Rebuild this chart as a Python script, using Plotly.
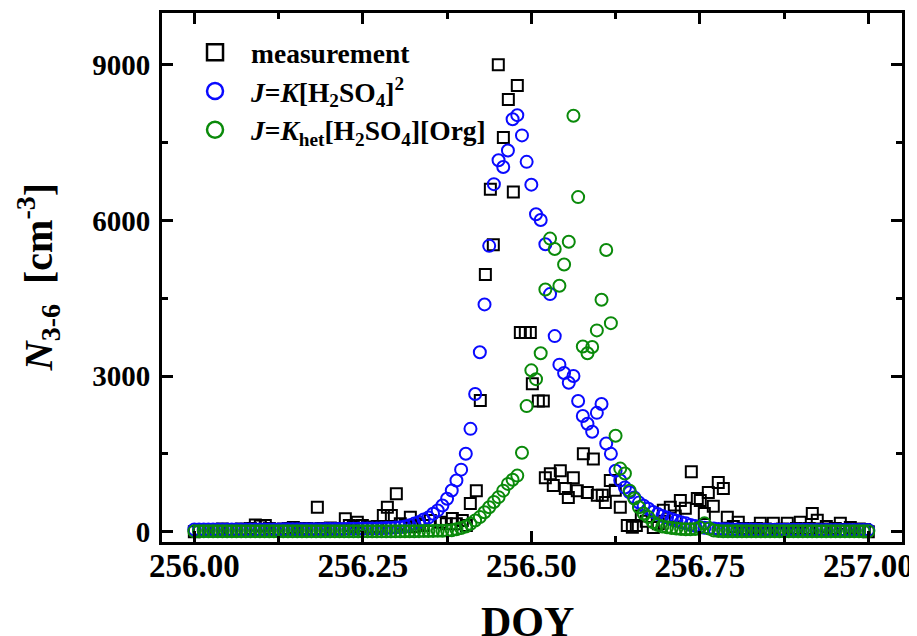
import plotly.graph_objects as go

# ---------------- data ----------------
# model time axis: 10-min resolution over DOY 256-257
model_doy = [256 + i / 144 for i in range(145)]

model_sq = [
    40, 40, 40, 40, 40, 40, 40, 40, 40, 40,
    40, 40, 40, 40, 40, 42, 42, 42, 42, 44,
    44, 44, 45, 45, 46, 46, 47, 48, 49, 50,
    51, 52, 53, 54, 55, 56, 58, 59, 60, 62,
    65, 68, 72, 78, 85, 100, 125, 155, 185, 235,
    270, 345, 409, 505, 633, 792, 985, 1195, 1502, 1982,
    2654, 3460, 4381, 5510, 6700, 7160, 7030, 7350, 7950, 8030,
    7640, 7130, 6690, 6120, 6010, 5540, 4580, 3770, 3220, 3060,
    2870, 3000, 2520, 2230, 2080, 1925, 2290, 2460, 1700, 1500,
    1175, 985, 850, 760, 660, 560, 500, 440, 380, 340,
    300, 270, 240, 210, 180, 160, 130, 110, 90, 75,
    65, 58, 52, 48, 45, 43, 42, 40, 40, 39,
    38, 38, 37, 37, 36, 36, 35, 35, 35, 34,
    34, 34, 33, 33, 33, 32, 32, 32, 31, 31,
    31, 30, 30, 30, 30,
]

model_het = [
    5, 5, 5, 5, 5, 5, 5, 5, 5, 5,
    5, 5, 5, 5, 5, 5, 5, 5, 5, 5,
    5, 5, 5, 5, 5, 5, 5, 5, 5, 5,
    5, 5, 5, 5, 5, 5, 5, 5, 5, 5,
    5, 5, 5, 5, 5, 6, 7, 8, 9, 10,
    12, 14, 16, 18, 20, 25, 45, 70, 100, 150,
    215, 280, 375, 470, 570, 665, 790, 920, 1000, 1080,
    1520, 2420, 3110, 2940, 3440, 4670, 5650, 5450, 4740, 5150,
    5590, 8020, 6450, 3570, 3440, 3560, 3880, 4470, 5430, 4020,
    1850, 1215, 1120, 790, 640, 470, 350, 280, 180, 130,
    100, 85, 70, 60, 50, 45, 45, 50, 80, 160,
    60, 20, 10, 8, 6, 5, 5, 5, 5, 5,
    5, 5, 5, 5, 5, 5, 5, 5, 5, 5,
    5, 5, 5, 5, 5, 5, 5, 5, 5, 5,
    5, 5, 5, 5, 5,
]

meas_doy = [
    256.0000, 256.0074, 256.0148, 256.0208, 256.0282, 256.0356, 256.0415, 256.0490,
    256.0549, 256.0623, 256.0697, 256.0757, 256.0831, 256.0905, 256.0979, 256.1053,
    256.1113, 256.1187, 256.1246, 256.1320, 256.1395, 256.1469, 256.1528, 256.1602,
    256.1662, 256.1736, 256.1825, 256.1884, 256.1944, 256.2018, 256.2077, 256.2151,
    256.2240, 256.2300, 256.2359, 256.2418, 256.2493, 256.2567, 256.2641, 256.2715,
    256.2804, 256.2864, 256.2923, 256.2997, 256.3056, 256.3131, 256.3205, 256.3264,
    256.3338, 256.3398, 256.3501, 256.3650, 256.3739, 256.3828, 256.3887, 256.3976,
    256.4036, 256.4095, 256.4184, 256.4243, 256.4318, 256.4392, 256.4436, 256.4510,
    256.4585, 256.4659, 256.4733, 256.4792, 256.4837, 256.4911, 256.4985, 256.5015,
    256.5104, 256.5178, 256.5208, 256.5282, 256.5326, 256.5430, 256.5504, 256.5549,
    256.5623, 256.5682, 256.5772, 256.5831, 256.5920, 256.5979, 256.6053, 256.6098,
    256.6172, 256.6246, 256.6320, 256.6424, 256.6499, 256.6558, 256.6632, 256.6706,
    256.6810, 256.6884, 256.6958, 256.7062, 256.7136, 256.7211, 256.7285, 256.7374,
    256.7463, 256.7507, 256.7567, 256.7626, 256.7700, 256.7774, 256.7849, 256.7908,
    256.7997, 256.8071, 256.8145, 256.8220, 256.8279, 256.8338, 256.8398, 256.8472,
    256.8531, 256.8591, 256.8665, 256.8724, 256.8798, 256.8858, 256.8932, 256.8991,
    256.9065, 256.9125, 256.9169, 256.9243, 256.9318, 256.9377, 256.9451, 256.9510,
    256.9585, 256.9659, 256.9733, 256.9792, 256.9866, 256.9941, 257.0000,
]

meas_val = [
    0, 20, 30, 40, 30, 40, 50, 40,
    30, 40, 50, 40, 60, 130, 110, 120,
    60, 40, 30, 50, 60, 80, 40, 30,
    60, 50, 470, 60, 40, 70, 60, 50,
    250, 120, 100, 180, 120, 90, 80, 100,
    310, 470, 310, 730, 150, 120, 275, 100,
    150, 120, 215, 180, 150, 255, 150, 215,
    120, 540, 790, 2530, 4960, 6600, 5530, 9000,
    7600, 8330, 6550, 8600, 3840, 3840, 3840, 2850,
    2520, 2520, 1040, 1115, 890, 1175, 830, 660,
    1040, 790, 1500, 755, 1400, 700, 700, 560,
    985, 800, 470, 120, 85, 120, 300, 200,
    80, 150, 410, 470, 300, 600, 450, 1155,
    640, 600, 350, 755, 490, 945, 830, 275,
    100, 180, 60, 40, 30, 60, 160, 50,
    30, 160, 40, 50, 160, 30, 60, 180,
    40, 60, 350, 220, 50, 100, 30, 60,
    160, 40, 80, 30, 50, 40, 0,
]

series_names = [
    "measurement",
    "<i>J</i>=<i>K</i>[H<sub>2</sub>SO<sub>4</sub>]<sup>2</sup>",
    "<i>J</i>=<i>K</i><sub>het</sub>[H<sub>2</sub>SO<sub>4</sub>][Org]",
]
series_colors = ["black", "#0a0aff", "#0a8a0a"]

x_ticks = [256.0, 256.25, 256.5, 256.75, 257.0]
x_ticktext = ["256.00", "256.25", "256.50", "256.75", "257.00"]
y_ticks = [0, 3000, 6000, 9000]

# ---------------- figure ----------------
FONT = "Liberation Serif, Times New Roman, serif"

fig = go.Figure()

fig.add_trace(go.Scatter(
    x=meas_doy, y=meas_val, mode="markers", name=series_names[0], showlegend=False,
    marker=dict(symbol="square-open", size=11, color=series_colors[0],
                line=dict(width=2, color=series_colors[0])),
))
fig.add_trace(go.Scatter(
    x=model_doy, y=model_sq, mode="markers", name=series_names[1], showlegend=False,
    marker=dict(symbol="circle-open", size=12, color=series_colors[1],
                line=dict(width=2, color=series_colors[1])),
))
fig.add_trace(go.Scatter(
    x=model_doy, y=model_het, mode="markers", name=series_names[2], showlegend=False,
    marker=dict(symbol="circle-open", size=12, color=series_colors[2],
                line=dict(width=2, color=series_colors[2])),
))

# legend entries (larger symbols, as in the original legend)
legend_symbols = ["square-open", "circle-open", "circle-open"]
for i in range(3):
    fig.add_trace(go.Scatter(
        x=[None], y=[None], mode="markers", name=series_names[i],
        legendgroup=f"g{i}",
        marker=dict(symbol=legend_symbols[i], size=16, color=series_colors[i],
                    line=dict(width=2.5, color=series_colors[i])),
    ))

axis_common = dict(
    showline=True, linewidth=3, linecolor="black", mirror="allticks",
    ticks="inside", ticklen=11, tickwidth=2.5, tickcolor="black",
    showgrid=False, zeroline=False,
)

fig.update_xaxes(
    range=[255.952, 257.05], tickvals=x_ticks, ticktext=x_ticktext,
    tickfont=dict(family=FONT, size=33, color="black", weight="bold"),
    minor=dict(tick0=256, dtick=0.125, ticks="inside", ticklen=6, tickwidth=2.5, tickcolor="black"),
    ticklabelstandoff=-8,
    **axis_common,
)
fig.update_yaxes(
    range=[-200, 10000], tickvals=y_ticks,
    tickfont=dict(family=FONT, size=29, color="black", weight="bold"),
    minor=dict(tick0=0, dtick=1500, ticks="inside", ticklen=6, tickwidth=2.5, tickcolor="black"),
    ticklabelstandoff=3,
    **axis_common,
)

fig.add_annotation(
    text="DOY", xref="paper", yref="paper", x=0.494, y=-0.104,
    xanchor="center", yanchor="top", showarrow=False,
    font=dict(family=FONT, size=42, color="black", weight="bold"),
)
fig.add_annotation(
    text="<i>N</i><sub>3-6</sub>  [cm<sup>-3</sup>]", xref="paper", yref="paper",
    x=-0.168, y=0.5, xanchor="center", yanchor="middle", textangle=-90, showarrow=False,
    font=dict(family=FONT, size=40, color="black", weight="bold"),
)

# the page body adds an 8 px offset, so the figure is sized to fit the window
fig.update_layout(
    width=909, height=628, autosize=False,
    margin=dict(l=154, r=15, t=2, b=94),
    plot_bgcolor="white", paper_bgcolor="white",
    legend=dict(
        x=0.023, y=0.972, xanchor="left", yanchor="top",
        font=dict(family=FONT, size=27.5, color="black", weight="bold"),
        bgcolor="rgba(0,0,0,0)", tracegroupgap=0, itemwidth=62,
    ),
)

fig.write_html("out.html")
